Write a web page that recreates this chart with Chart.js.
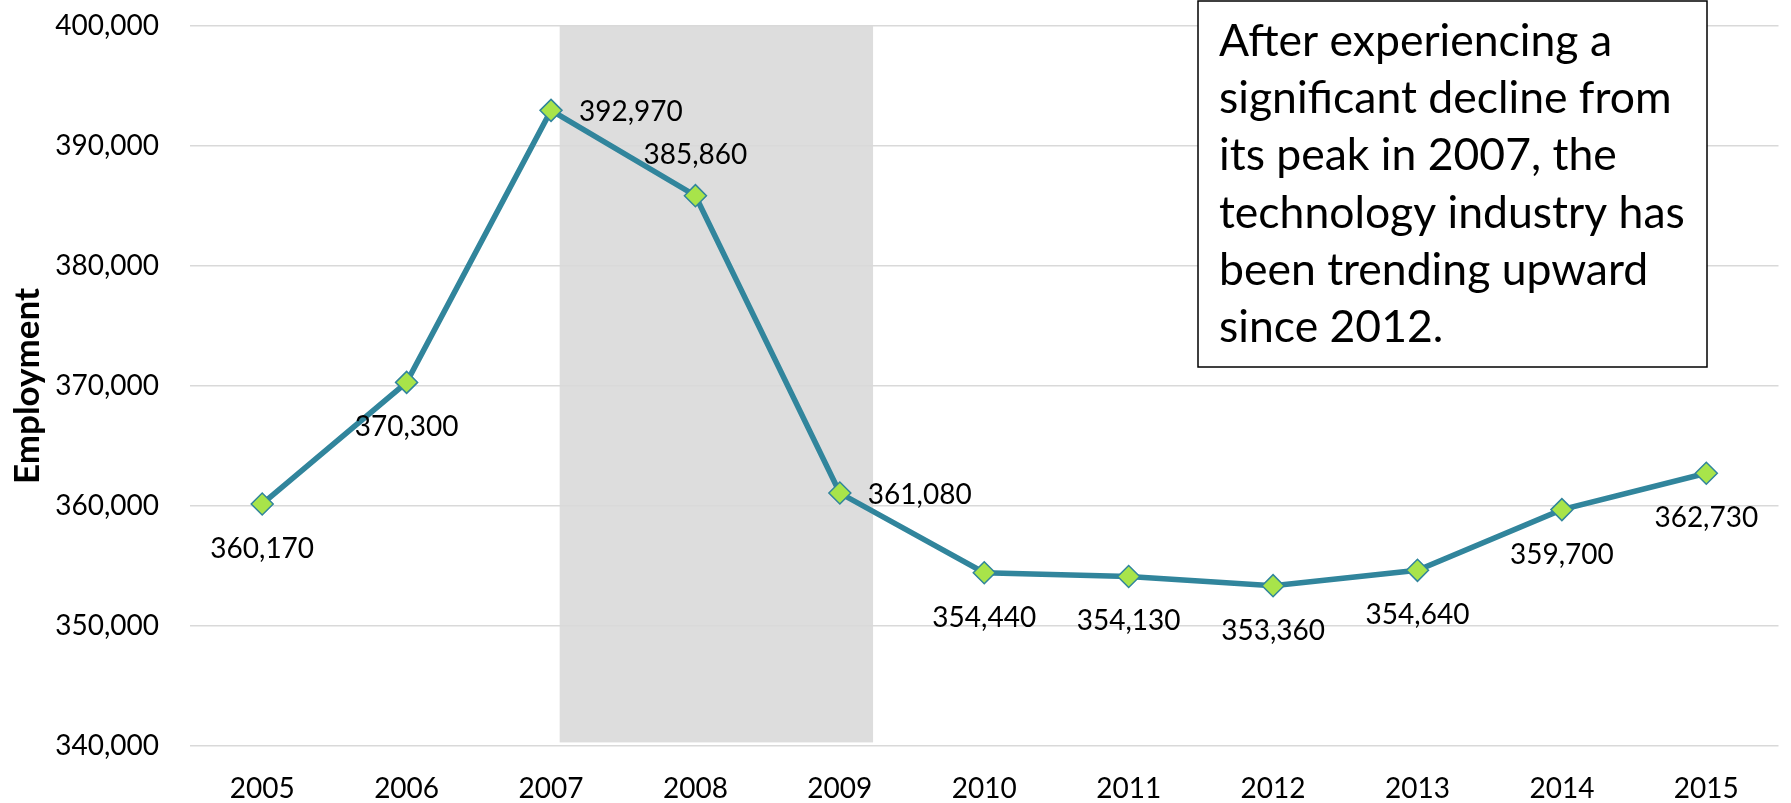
<!DOCTYPE html>
<html>
<head>
<meta charset="utf-8">
<script src="https://cdn.jsdelivr.net/npm/chart.js@4.4.1/dist/chart.umd.min.js"></script>
<style>
  html, body { margin: 0; padding: 0; background: #fff; }
  canvas { display: block; }
</style>
</head>
<body>
<canvas id="employmentChart" width="1791" height="803"></canvas>
<script>
// Chart data
const years = ["2005", "2006", "2007", "2008", "2009", "2010", "2011", "2012", "2013", "2014", "2015"];
const employment = [360170, 370300, 392970, 385860, 361080, 354440, 354130, 353360, 354640, 359700, 362730];
// where each value label sits relative to its point
const labelSides = ["below", "below", "right", "above", "right", "below", "below", "below", "below", "below", "below"];
// y axis range and step
const yMin = 340000;
const yMax = 400000;
const yStep = 10000;
// grey band, in category index units (2007 .. 2009)
const bandFrom = 2.06;
const bandTo = 4.23;
const bandBottom = 340300;
// note box text
const noteLines = [
  "After experiencing a",
  "significant decline from",
  "its peak in 2007, the",
  "technology industry has",
  "been trending upward",
  "since 2012."
];

const FONT = "Lato, 'Open Sans', sans-serif";

function fmt(v) {
  return v.toLocaleString("en-US");
}

// draws the shaded band behind everything
const bandPlugin = {
  id: "band",
  beforeDraw(chart) {
    const { ctx, scales } = chart;
    const x1 = scales.x.getPixelForValue(bandFrom);
    const x2 = scales.x.getPixelForValue(bandTo);
    const y1 = scales.y.getPixelForValue(yMax);
    const y2 = scales.y.getPixelForValue(bandBottom);
    ctx.save();
    ctx.fillStyle = "#dddddd";
    ctx.fillRect(x1, y1, x2 - x1, y2 - y1);
    ctx.restore();
  }
};

// value labels next to each point
const valueLabelPlugin = {
  id: "valueLabels",
  afterDatasetsDraw(chart) {
    const ctx = chart.ctx;
    const meta = chart.getDatasetMeta(0);
    ctx.save();
    ctx.font = "28px " + FONT;
    ctx.fillStyle = "#000";
    meta.data.forEach((pt, i) => {
      const text = fmt(employment[i]);
      const side = labelSides[i];
      if (side === "right") {
        ctx.textAlign = "left";
        ctx.textBaseline = "middle";
        ctx.fillText(text, pt.x + 28, pt.y + 2);
      } else if (side === "above") {
        ctx.textAlign = "center";
        ctx.textBaseline = "middle";
        ctx.fillText(text, pt.x, pt.y - 41);
      } else {
        ctx.textAlign = "center";
        ctx.textBaseline = "middle";
        ctx.fillText(text, pt.x, pt.y + 45);
      }
    });
    ctx.restore();
  }
};

// the text box in the upper right
const notePlugin = {
  id: "note",
  afterDraw(chart) {
    const ctx = chart.ctx;
    ctx.save();
    ctx.fillStyle = "#fff";
    ctx.fillRect(1198, 1, 509, 366);
    ctx.strokeStyle = "#000";
    ctx.lineWidth = 1.5;
    ctx.strokeRect(1198, 1, 509, 366);
    ctx.font = "44.5px " + FONT;
    ctx.fillStyle = "#000";
    ctx.textAlign = "left";
    ctx.textBaseline = "alphabetic";
    noteLines.forEach((line, i) => {
      ctx.fillText(line, 1219, 56 + i * 57.2);
    });
    ctx.restore();
  }
};

new Chart(document.getElementById("employmentChart"), {
  type: "line",
  data: {
    labels: years,
    datasets: [{
      data: employment,
      borderColor: "#31859c",
      borderWidth: 5.5,
      pointStyle: "rectRot",
      pointRadius: 11,
      pointBackgroundColor: "#a8e44a",
      pointBorderColor: "#31859c",
      pointBorderWidth: 1.5,
      tension: 0
    }]
  },
  options: {
    responsive: false,
    devicePixelRatio: 1,
    animation: false,
    layout: { padding: { top: 26, right: 0, left: 0, bottom: 0 } },
    plugins: {
      legend: { display: false },
      tooltip: { enabled: false }
    },
    scales: {
      x: {
        offset: true,
        grid: { display: false },
        border: { display: false },
        ticks: {
          color: "#000",
          font: { family: FONT, size: 28 },
          padding: 18,
          maxRotation: 0
        },
        afterFit(scale) {
          scale.height = 57;
          scale.paddingLeft = 0;
          scale.paddingRight = 0;
        }
      },
      y: {
        min: yMin,
        max: yMax,
        grid: { color: "#d9d9d9", lineWidth: 1.5, drawTicks: false },
        border: { display: false },
        ticks: {
          stepSize: yStep,
          color: "#000",
          font: { family: FONT, size: 28 },
          padding: 31,
          callback: (v) => fmt(v)
        },
        title: {
          display: true,
          text: "Employment",
          color: "#000",
          font: { family: FONT, size: 35, weight: "bold" },
          padding: { top: 7, bottom: 0 }
        },
        afterFit(scale) {
          scale.width = 190;
          scale.paddingTop = 0;
          scale.paddingBottom = 0;
        }
      }
    }
  },
  plugins: [bandPlugin, valueLabelPlugin, notePlugin]
});
</script>
</body>
</html>
